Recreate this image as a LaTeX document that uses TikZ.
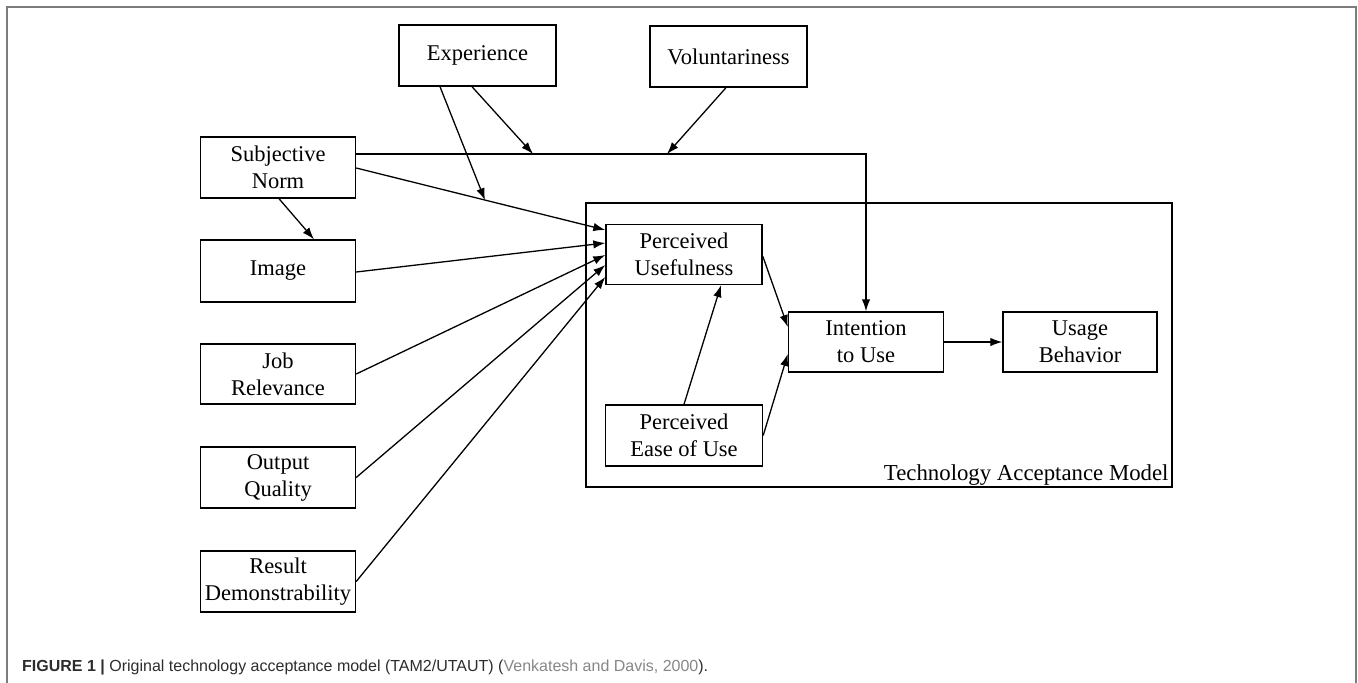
\documentclass[tikz,border=0pt]{standalone}
\usepackage{fontspec}
\setmainfont{Liberation Serif}
\newfontfamily\capfont{Liberation Sans}
\usetikzlibrary{arrows.meta}
\definecolor{framegray}{RGB}{125,125,125}
\definecolor{citegray}{RGB}{135,135,135}
\definecolor{captext}{RGB}{45,45,45}
\begin{document}
\begin{tikzpicture}[x=1pt,y=-1pt,
 box/.style={draw=black,line width=1.4pt,align=center,inner sep=0pt,font=\fontsize{22.5}{27}\selectfont},
 arr/.style={line width=1.3pt,-{Latex[length=12pt,width=8.5pt]}},
 ln/.style={line width=1.3pt}]
\useasboundingbox (0,0) rectangle (1358,683);
\fill[white] (0,0) rectangle (1358,683);
\draw[framegray,line width=2pt] (7,683) -- (7,7) -- (1356,7) -- (1356,683);

% TAM frame
\node[draw=black,line width=1.4pt,minimum width=586pt,minimum height=284pt,inner sep=0pt] (tam) at (879,345) {};
\node[anchor=base east,inner sep=0pt,font=\fontsize{22.8}{27}\selectfont] (tamlbl) at ([xshift=-4pt,yshift=7pt]tam.south east) {Technology Acceptance Model};

% external nodes
\node[box,minimum width=157pt,minimum height=61pt] (exp) at (477.5,55.5) {Experience};
\node[box,minimum width=157pt,minimum height=61pt] (vol) at (728.5,56.5) {Voluntariness};
\node[box,minimum width=155pt,minimum height=61pt] (sn) at (278,167.5) {Subjective\\Norm};
\node[box,minimum width=155pt,minimum height=62pt] (img) at (278,271) {Image};
\node[box,minimum width=155pt,minimum height=60pt] (job) at (278,374) {Job\\Relevance};
\node[box,minimum width=155pt,minimum height=61pt] (out) at (278,477.5) {Output\\Quality};
\node[box,minimum width=155pt,minimum height=61pt] (res) at (278,581.5) {Result\\Demonstrability};

% TAM nodes
\node[box,minimum width=156pt,minimum height=60pt] (pu) at (684,254.5) {Perceived\\Usefulness};
\node[box,minimum width=157pt,minimum height=61pt] (peou) at (684,435.5) {Perceived\\Ease of Use};
\node[box,minimum width=155pt,minimum height=60pt] (int) at (866,342) {Intention\\to Use};
\node[box,minimum width=154pt,minimum height=60pt] (use) at (1080,342) {Usage\\Behavior};

% moderator line
\coordinate (turn) at (866,154);
\coordinate (m1) at (533,154);
\coordinate (m3) at (667,154);
\coordinate (m2) at (485,200.2);
\draw[arr] ([yshift=13.5pt]sn.east) -- (turn) -- (int.north);
\draw[arr] ([xshift=-5.5pt]exp.south) -- (m1);
\draw[arr] ([xshift=-37.5pt]exp.south) -- (m2);
\draw[arr] ([xshift=-2.5pt]vol.south) -- (m3);

% into PU
\draw[arr] ([yshift=-0.5pt]sn.east) -- ([yshift=24.5pt]pu.west);
\draw[arr] ([xshift=1pt]sn.south) -- ([xshift=36pt]img.north);
\draw[arr] ([yshift=-1pt]img.east) -- ([yshift=11.5pt]pu.west);
\draw[arr] (job.east) -- ([yshift=-0.5pt]pu.west);
\draw[arr] (out.east) -- ([yshift=-10.5pt]pu.west);
\draw[arr] (res.east) -- ([yshift=-22.5pt]pu.west);

% inside TAM
\draw[arr] ([yshift=-1.5pt]pu.east) -- ([yshift=15pt]int.west);
\draw[arr] (peou.east) -- ([yshift=-12pt]int.west);
\draw[arr] (peou.north) -- ([xshift=37pt]pu.south);
\draw[arr] (int.east) -- (use.west);

% caption
\node[anchor=west,inner sep=0pt,font=\capfont\fontsize{16}{18}\selectfont,text=captext] (cap) at (22,667) {\textbf{FIGURE 1 |} Original technology acceptance model (TAM2/UTAUT) (\textcolor{citegray}{Venkatesh and Davis, 2000}).};
\end{tikzpicture}
\end{document}
